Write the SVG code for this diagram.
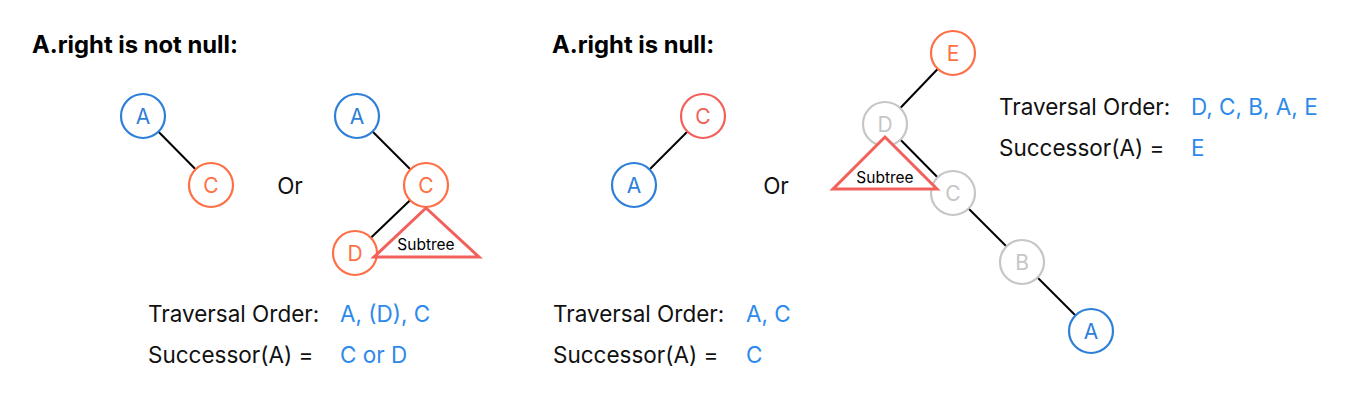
<svg xmlns="http://www.w3.org/2000/svg" width="1360" height="402" viewBox="0 0 1360 402">
<style>
text{font-family:Inter,"Noto Sans","Liberation Sans",sans-serif;}
.t{font-size:22.5px;fill:#111;}
.h{font-size:23.8px;font-weight:700;fill:#000;}
.v{font-size:22.5px;fill:#2D8AEA;}
.n circle{fill:#fff;stroke-width:2.2;}
.n text{font-size:21px;text-anchor:middle;dominant-baseline:central;}
.blue circle{stroke:#2E7FD8;} .blue text{fill:#2E7FD8;}
.orange circle{stroke:#FF6F45;} .orange text{fill:#FF6F45;}
.red circle{stroke:#F2605C;} .red text{fill:#F2605C;}
.gray circle{stroke:#C6C6C6;} .gray text{fill:#C6C6C6;}
.edge{stroke:#000;stroke-width:2;}
.tri{fill:#fff;stroke:#F2605C;stroke-width:3;stroke-linejoin:miter;}
.st{font-size:15.5px;fill:#000;text-anchor:middle;dominant-baseline:central;}
</style>
<text class="h" x="32" y="53">A.right is not null:</text>
<text class="h" x="552" y="53">A.right is null:</text>
<g id="connectors">
<line class="edge" x1="143" y1="116" x2="211" y2="185"/>
<line class="edge" x1="357" y1="116" x2="426" y2="185"/>
<line class="edge" x1="426" y1="185" x2="355" y2="253"/>
<line class="edge" x1="703" y1="116" x2="634" y2="185"/>
<line class="edge" x1="953" y1="53" x2="885" y2="124"/>
<line class="edge" x1="885" y1="124" x2="953" y2="193"/>
<line class="edge" x1="953" y1="193" x2="1022" y2="262"/>
<line class="edge" x1="1022" y1="262" x2="1091" y2="331"/>
</g>
<g id="L1A" class="n blue"><circle cx="143" cy="116" r="22"/><text x="143" y="116">A</text></g>
<g id="L1C" class="n orange"><circle cx="211" cy="185" r="22"/><text x="211" y="185">C</text></g>
<text class="t" x="290" y="185" text-anchor="middle" dominant-baseline="central">Or</text>
<g id="L2A" class="n blue"><circle cx="357" cy="116" r="22"/><text x="357" y="116">A</text></g>
<g id="L2C" class="n orange"><circle cx="426" cy="185" r="22"/><text x="426" y="185">C</text></g>
<g id="L2D" class="n orange"><circle cx="355" cy="253" r="22"/><text x="355" y="253">D</text></g>
<g id="L2Sub"><polygon class="tri" points="426,208 374,257 479,257"/><text class="st" x="426" y="244">Subtree</text></g>
<text class="t" x="148" y="322">Traversal Order:</text><text class="v" x="340" y="322">A, (D), C</text>
<text class="t" x="148" y="363">Successor(A) =</text><text class="v" x="340" y="363">C or D</text>

<g id="M1C" class="n red"><circle cx="703" cy="116" r="22"/><text x="703" y="116">C</text></g>
<g id="M1A" class="n blue"><circle cx="634" cy="185" r="22"/><text x="634" y="185">A</text></g>
<text class="t" x="776" y="185" text-anchor="middle" dominant-baseline="central">Or</text>
<text class="t" x="553" y="322">Traversal Order:</text><text class="v" x="746" y="322">A, C</text>
<text class="t" x="553" y="363">Successor(A) =</text><text class="v" x="746" y="363">C</text>

<g id="R1E" class="n orange"><circle cx="953" cy="53" r="22"/><text x="953" y="53">E</text></g>
<g id="R1D" class="n gray"><circle cx="885" cy="124" r="22"/><text x="885" y="124">D</text></g>
<g id="R1C" class="n gray"><circle cx="953" cy="193" r="22"/><text x="953" y="193">C</text></g>
<g id="R1B" class="n gray"><circle cx="1022" cy="262" r="22"/><text x="1022" y="262">B</text></g>
<g id="R1A" class="n blue"><circle cx="1091" cy="331" r="22"/><text x="1091" y="331">A</text></g>
<g id="R1Sub"><polygon class="tri" points="885,137 833,189 937,189"/><text class="st" x="885" y="177">Subtree</text></g>
<text class="t" x="999" y="115">Traversal Order:</text><text class="v" x="1191" y="115">D, C, B, A, E</text>
<text class="t" x="999" y="156">Successor(A) =</text><text class="v" x="1191" y="156">E</text>
</svg>
